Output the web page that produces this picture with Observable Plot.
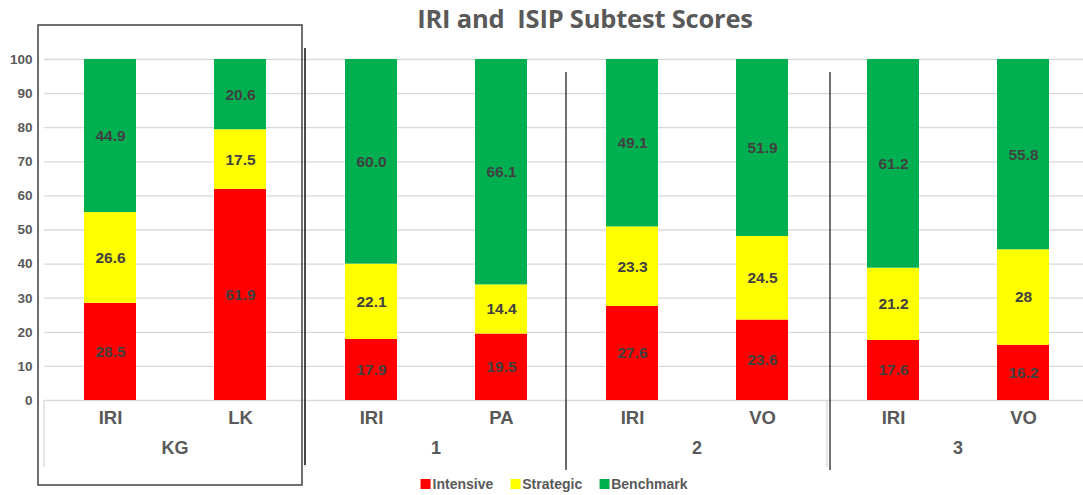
<!DOCTYPE html>
<html>
<head>
<meta charset="utf-8">
<script src="https://cdn.jsdelivr.net/npm/d3@7"></script>
<script src="https://cdn.jsdelivr.net/npm/@observablehq/plot@0.6"></script>
<style>
  html, body { margin: 0; padding: 0; background: #fff; }
  #wrap { position: relative; width: 1083px; height: 495px; overflow: hidden; }
  #title { position: absolute; top: 1px; left: 585px; transform: translateX(-50%);
    font-family: "Open Sans", sans-serif; font-weight: 700; font-size: 25.5px; color: #595959;
    white-space: pre; line-height: 34px; letter-spacing: -0.2px; }
  #legend { position: absolute; top: 476px; left: 554px; transform: translateX(-50%);
    display: flex; gap: 17px; font-family: "Liberation Sans", Arial, sans-serif; font-weight: bold;
    font-size: 14px; color: #595959; white-space: nowrap; }
  #legend .item { display: flex; align-items: center; gap: 2px; }
  #legend .sw { width: 10px; height: 10px; display: inline-block; }
  #chart { position: absolute; top: 0; left: 0; }
</style>
</head>
<body>
<div id="wrap">
  <div id="chart"></div>
  <div id="title"></div>
  <div id="legend"></div>
</div>
<script>
const titleText = "IRI and  ISIP Subtest Scores";
const groupNames = ["KG", "1", "2", "3"];
const groups = ["KG", "KG", "1", "1", "2", "2", "3", "3"];
const subtests = ["IRI", "LK", "IRI", "PA", "IRI", "VO", "IRI", "VO"];
const slots = ["a", "b", "a", "b", "a", "b", "a", "b"];
const intensive = [28.5, 61.9, 17.9, 19.5, 27.6, 23.6, 17.6, 16.2];
const strategic = [26.6, 17.5, 22.1, 14.4, 23.3, 24.5, 21.2, 28];
const benchmark = [44.9, 20.6, 60.0, 66.1, 49.1, 51.9, 61.2, 55.8];
const levels = ["Intensive", "Strategic", "Benchmark"];
const levelColors = ["#ff0000", "#ffff00", "#00b050"];
const yTicks = [0, 10, 20, 30, 40, 50, 60, 70, 80, 90, 100];

const series = [intensive, strategic, benchmark];
const bars = groups.map((g, i) => ({group: g, slot: slots[i], subtest: subtests[i]}));
const rows = [];
bars.forEach((b, i) => {
  levels.forEach((lv, j) => rows.push({...b, level: lv, value: series[j][i]}));
});
const fmt = v => (v === 28 ? "28" : v.toFixed(1));

const plot = Plot.plot({
  width: 1083,
  height: 495,
  marginLeft: 44,
  marginRight: -5,
  marginTop: 59,
  marginBottom: 95,
  style: {fontFamily: "'Liberation Sans', Arial, sans-serif", fontSize: "13.5px", fontWeight: "bold", color: "#595959", background: "transparent"},
  fx: {domain: groupNames, padding: 0, axis: null},
  x: {domain: ["a", "b"], paddingInner: 0.6, paddingOuter: 0.3, axis: null},
  y: {domain: [0, 100]},
  color: {domain: levels, range: levelColors},
  marks: [
    Plot.gridY({ticks: yTicks, stroke: "#d9d9d9", strokeOpacity: 1, strokeWidth: 1.3}),
    Plot.axisY({ticks: yTicks, tickSize: 0, tickPadding: 12, label: null, fontSize: 13.5, fontWeight: "bold"}),
    Plot.barY(rows, {fx: "group", x: "slot", y: "value", fill: "level"}),
    Plot.text(rows, Plot.stackY({fx: "group", x: "slot", y: "value", text: d => fmt(d.value), fill: "#404040", fontSize: 15.5, fontWeight: "bold"})),
    Plot.text(bars, {fx: "group", x: "slot", text: "subtest", frameAnchor: "bottom", dy: 23, fontSize: 18.5, fontWeight: "bold", fill: "#595959"}),
    Plot.text(groupNames, {fx: d => d, text: d => d, frameAnchor: "bottom", dy: 53, fontSize: 18, fontWeight: "bold", fill: "#595959"})
  ]
});
document.getElementById("chart").appendChild(plot);

// decorations: category separators and annotation lines
const fx = plot.scale("fx");
const yS = plot.scale("y");
const svg = d3.select(plot);
const y0 = yS.apply(0);
const edges = groupNames.map(g => fx.apply(g));
const deco = svg.append("g");
edges.forEach(x => {
  deco.append("line").attr("x1", x).attr("x2", x).attr("y1", y0).attr("y2", y0 + 67)
    .attr("stroke", "#d9d9d9").attr("stroke-width", 1.3);
});
// KG box
deco.append("rect").attr("x", edges[0] - 6).attr("y", 25).attr("width", edges[1] - edges[0] + 3).attr("height", 460)
  .attr("fill", "none").attr("stroke", "#404040").attr("stroke-width", 1.5);
deco.append("line").attr("x1", edges[1]).attr("x2", edges[1]).attr("y1", 48).attr("y2", 465)
  .attr("stroke", "#111").attr("stroke-width", 1.5);
[edges[2], edges[3] + 3].forEach(x => {
  deco.append("line").attr("x1", x).attr("x2", x).attr("y1", 72).attr("y2", 470)
    .attr("stroke", "#111").attr("stroke-width", 1.2);
});

document.getElementById("title").textContent = titleText;
const legend = document.getElementById("legend");
levels.forEach((lv, j) => {
  const item = document.createElement("span");
  item.className = "item";
  const sw = document.createElement("span");
  sw.className = "sw";
  sw.style.background = levelColors[j];
  item.appendChild(sw);
  item.appendChild(document.createTextNode(lv));
  legend.appendChild(item);
});
</script>
</body>
</html>
